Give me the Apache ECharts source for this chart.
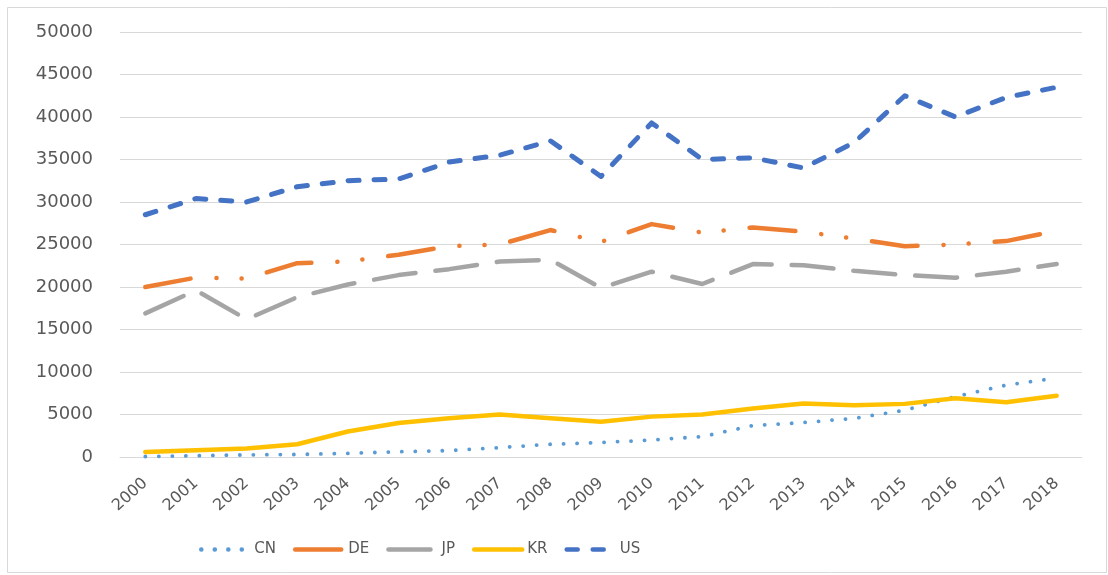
<!DOCTYPE html>
<html>
<head>
<meta charset="utf-8">
<script src="https://cdn.jsdelivr.net/npm/echarts@6/dist/echarts.min.js"></script>
<style>
html,body{margin:0;padding:0;background:#fff;}
#chart{width:1108px;height:575px;}
</style>
</head>
<body>
<div id="chart"></div>
<script>
const years = ['2000','2001','2002','2003','2004','2005','2006','2007','2008','2009','2010','2011','2012','2013','2014','2015','2016','2017','2018'];
const CN = [60, 150, 250, 300, 430, 620, 750, 1100, 1500, 1700, 2000, 2400, 3700, 4050, 4550, 5500, 7100, 8450, 9300];
const DE = [20000, 21100, 21000, 22800, 23000, 23800, 24800, 25000, 26700, 25300, 27400, 26400, 27000, 26500, 25700, 24800, 25000, 25400, 26600];
const JP = [16900, 19600, 16200, 18800, 20300, 21400, 22100, 23000, 23200, 19900, 21800, 20350, 22700, 22550, 21900, 21400, 21100, 21800, 22700];
const KR = [600, 800, 1000, 1500, 3000, 4000, 4550, 5000, 4550, 4150, 4750, 5000, 5700, 6300, 6100, 6250, 6900, 6450, 7200];
const US = [28500, 30400, 30000, 31800, 32500, 32700, 34700, 35500, 37200, 33000, 39300, 35000, 35200, 34000, 37000, 42500, 40000, 42300, 43500];
const yTicks = {min: 0, max: 50000, interval: 5000};

const txt = '#595959';
const font = 'DejaVu Sans';
const chart = echarts.init(document.getElementById('chart'));
function mk(name, data, color, width, type, cap) {
  return {
    name: name, type: 'line', data: data, symbol: 'none', smooth: false,
    lineStyle: {color: color, width: width, type: type, cap: cap || 'round', join: 'round'},
    itemStyle: {color: color},
    emphasis: {disabled: true}
  };
}
chart.setOption({
  animation: false,
  backgroundColor: '#fff',
  graphic: [{
    type: 'rect', shape: {x: 7.5, y: 7.5, width: 1099, height: 565},
    style: {fill: 'none', stroke: '#d9d9d9', lineWidth: 1}, silent: true, z: -1
  }],
  grid: {left: 120, right: 26, top: 32, bottom: 118, containLabel: false},
  xAxis: {
    type: 'category', data: years, boundaryGap: true,
    axisLine: {show: true, lineStyle: {color: '#d9d9d9', width: 1}},
    axisTick: {show: false},
    axisLabel: {color: txt, fontFamily: font, fontSize: 16, rotate: 42, margin: 24, interval: 0}
  },
  yAxis: {
    type: 'value', min: yTicks.min, max: yTicks.max, interval: yTicks.interval,
    axisLine: {show: false}, axisTick: {show: false},
    splitLine: {lineStyle: {color: '#d9d9d9', width: 1}},
    axisLabel: {color: txt, fontFamily: font, fontSize: 18, margin: 27, formatter: function (v) { return String(v); }}
  },
  legend: {
    left: 194, top: 537, itemWidth: 48, itemHeight: 12, itemGap: 17,
    itemStyle: {opacity: 0},
    lineStyle: {width: 4.5},
    textStyle: {color: txt, fontFamily: font, fontSize: 15},
    data: ['CN', 'DE', 'JP', 'KR', 'US']
  },
  series: [
    mk('CN', CN, '#5b9bd5', 3.8, [0.1, 13.4], 'round'),
    mk('DE', DE, '#ed7d31', 4.5, [46, 26, 0.1, 25, 0.1, 26], 'round'),
    mk('JP', JP, '#a5a5a5', 4.5, [42, 20], 'round'),
    mk('KR', KR, '#ffc000', 4.5, 'solid', 'round'),
    mk('US', US, '#4472c4', 5, [11, 15], 'round')
  ]
});
</script>
</body>
</html>
